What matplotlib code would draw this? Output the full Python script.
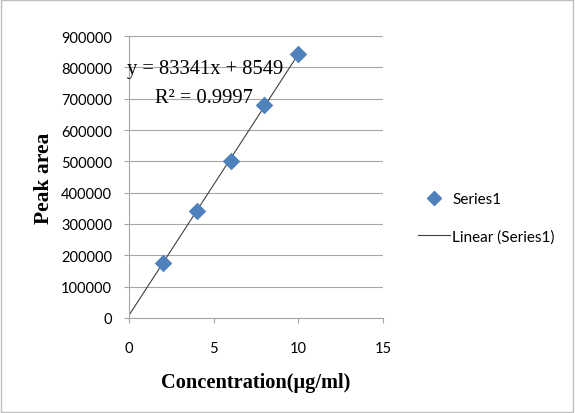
import numpy as np
import matplotlib.pyplot as plt
from matplotlib.lines import Line2D

# calibration data
conc = [2, 4, 6, 8, 10]
peak_area = [175500, 340000, 500000, 679000, 842000]

# trendline as printed on the chart
slope = 83341
intercept = 8549
r_squared = 0.9997

x_ticks = [0, 5, 10, 15]
y_ticks = list(range(0, 900001, 100000))

blue = '#4F81BD'
grid_gray = '#A6A6A6'


def main():
    fig = plt.figure(figsize=(5.75, 4.14), dpi=100)
    ax = fig.add_axes([0.2243, 0.2295, 0.4417, 0.6811])

    # chart area border
    fig.patches.append(plt.Rectangle((0.002, 0.003), 0.995, 0.994, transform=fig.transFigure,
                                     fill=False, edgecolor='#BFBFBF', linewidth=1))

    fit_x = np.array([0, 10])
    ax.plot(fit_x, slope * fit_x + intercept, color='#404040', linewidth=0.8, zorder=2)
    ax.scatter(conc, peak_area, marker='D', s=80, color=blue, zorder=3, linewidths=0)

    ax.set_xlim(0, 15)
    ax.set_ylim(0, 900000)
    ax.set_xticks(x_ticks)
    ax.set_yticks(y_ticks)
    ax.set_xticklabels([str(t) for t in x_ticks], fontfamily='Lato', fontsize=10.5)
    ax.set_yticklabels([str(t) for t in y_ticks], fontfamily='Lato', fontsize=10.5)
    ax.grid(axis='y', color=grid_gray, linewidth=0.8)
    ax.set_axisbelow(True)
    for side in ['top', 'right']:
        ax.spines[side].set_visible(False)
    for side in ['left', 'bottom']:
        ax.spines[side].set_color(grid_gray)
    ax.tick_params(axis='both', direction='out', color=grid_gray, length=3.6)
    ax.tick_params(axis='y', pad=8.5)
    ax.tick_params(axis='x', pad=13)

    ax.set_xlabel('Concentration(µg/ml)', fontfamily='Liberation Serif', fontweight='bold',
                  fontsize=14.7, labelpad=12)
    ax.set_ylabel('Peak area', fontfamily='Liberation Serif', fontweight='bold',
                  fontsize=15.5, labelpad=5)

    ax.text(-0.1, 795000, f'y = {slope}x + {intercept}', fontfamily='Liberation Serif',
            fontsize=14.8, va='center', ha='left')
    ax.text(1.54, 705000, f'R² = {r_squared}', fontfamily='Liberation Serif',
            fontsize=14.8, va='center', ha='left')

    handles = [
        Line2D([], [], marker='D', linestyle='none', color=blue, markersize=7.5),
        Line2D([], [], color='#404040', linewidth=0.8),
    ]
    fig.legend(handles, ['Series1', 'Linear (Series1)'], loc='center left',
               bbox_to_anchor=(0.727, 0.471), frameon=False,
               prop={'family': 'Lato', 'size': 11}, handlelength=2.1,
               handletextpad=0.15, labelspacing=1.5, borderpad=0, borderaxespad=0)

    fig.savefig('out.png', dpi=100)


if __name__ == "__main__":
    main()
